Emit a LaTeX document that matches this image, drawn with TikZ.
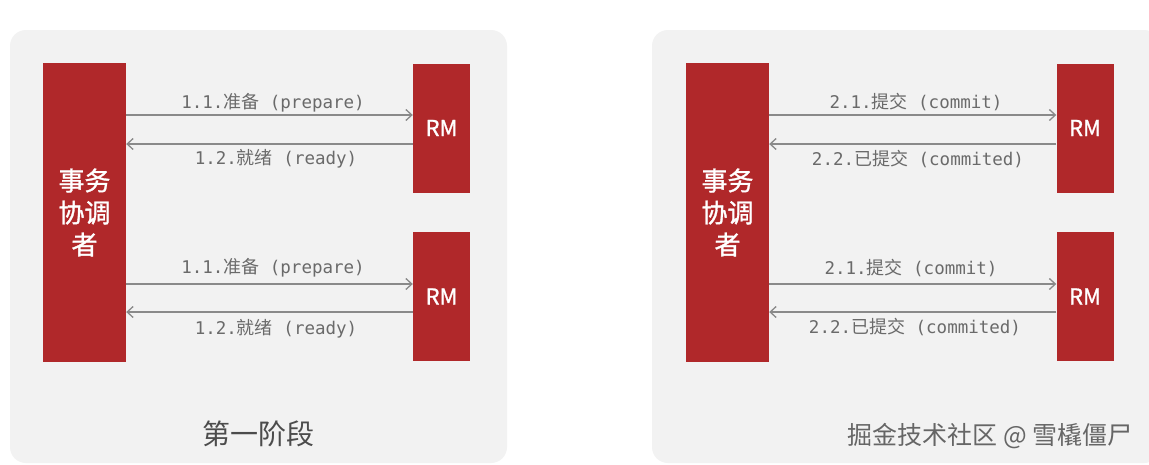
\documentclass[tikz,border=0pt]{standalone}
\usepackage{fontspec}
\setmainfont{Noto Sans CJK SC}
\newfontfamily\cjk{Noto Sans CJK SC}
\newfontfamily\cjkm[RawFeature={embolden=1.2}]{Noto Sans CJK SC}
\newfontfamily\mono{DejaVu Sans Mono}
\usetikzlibrary{arrows.meta}
\definecolor{boxred}{HTML}{B0282A}
\definecolor{panelbg}{HTML}{F2F2F2}
\definecolor{arrowgray}{HTML}{8A8A8A}
\definecolor{labelgray}{HTML}{6A6A6A}
\tikzset{
  panel/.style={fill=panelbg, draw=none, rounded corners=16pt},
  coord/.style={fill=boxred, draw=none, inner sep=0pt, minimum width=83pt, minimum height=299pt,
     text=white, font=\cjkm\fontsize{26}{32}\selectfont, align=center},
  rmbox/.style={fill=boxred, draw=none, inner sep=0pt, minimum width=57pt, minimum height=129pt,
     text=white, font=\cjkm\fontsize{22}{24}\selectfont},
  msg/.style={draw=arrowgray, line width=1.3pt, -{Straight Barb[length=6pt,width=11pt,line width=1.3pt]}},
  lbl/.style={text=labelgray, font=\mono\fontsize{17.5}{20}\selectfont, inner sep=0pt},
  title/.style={text=black!70, font=\cjk\fontsize{28}{30}\selectfont, inner sep=0pt},
}
\newcommand{\cj}[1]{{\cjk\fontsize{18}{20}\selectfont #1}}
\begin{document}
\begin{tikzpicture}[x=1pt,y=-1pt]
\useasboundingbox (0,0) rectangle (1149,464);
\fill[white] (0,0) rectangle (1149,464);
% panels
\path[panel] (10,30) rectangle (507,463);
\path[panel] (652,30) rectangle (1160,463);

% ---------- left panel ----------
\node[coord] (C1) at (84.5,212.5) {事务\\协调\\者};
\node[rmbox] (R1a) at (441.5,128) {RM};
\node[rmbox] (R1b) at (441.5,296.5) {RM};

\coordinate (a1s) at (C1.east |- 0,115);
\coordinate (a1e) at (R1a.west |- 0,115);
\coordinate (b1s) at (R1a.west |- 0,144);
\coordinate (b1e) at (C1.east |- 0,144);
\draw[msg] (a1s) -- (a1e);
\draw[msg] (b1s) -- (b1e);
\coordinate (a2s) at (C1.east |- 0,284);
\coordinate (a2e) at (R1b.west |- 0,284);
\coordinate (b2s) at (R1b.west |- 0,312);
\coordinate (b2e) at (C1.east |- 0,312);
\draw[msg] (a2s) -- (a2e);
\draw[msg] (b2s) -- (b2e);

\node[lbl] (l1) at (273,103) {1.1.\cj{准备} (prepare)};
\node[lbl] (l2) at (276,159) {1.2.\cj{就绪} (ready)};
\node[lbl] (l3) at (273,268) {1.1.\cj{准备} (prepare)};
\node[lbl] (l4) at (276,329) {1.2.\cj{就绪} (ready)};

\node[title] (t1) at (258,434) {第一阶段};

% ---------- right panel ----------
\node[coord] (C2) at (727.5,212.5) {事务\\协调\\者};
\node[rmbox] (R2a) at (1085,128) {RM};
\node[rmbox] (R2b) at (1085,296.5) {RM};

\coordinate (c1s) at (C2.east |- 0,115);
\coordinate (c1e) at (R2a.west |- 0,115);
\coordinate (d1s) at (R2a.west |- 0,144);
\coordinate (d1e) at (C2.east |- 0,144);
\draw[msg] (c1s) -- (c1e);
\draw[msg] (d1s) -- (d1e);
\coordinate (c2s) at (C2.east |- 0,284);
\coordinate (c2e) at (R2b.west |- 0,284);
\coordinate (d2s) at (R2b.west |- 0,312);
\coordinate (d2e) at (C2.east |- 0,312);
\draw[msg] (c2s) -- (c2e);
\draw[msg] (d2s) -- (d2e);

\node[lbl] (m1) at (916,102) {2.1.\cj{提交} (commit)};
\node[lbl] (m2) at (918,159) {2.2.\cj{已提交} (commited)};
\node[lbl] (m3) at (911,268) {2.1.\cj{提交} (commit)};
\node[lbl] (m4) at (915,327) {2.2.\cj{已提交} (commited)};

\node[text=black!60, font=\cjk\fontsize{25}{28}\selectfont, inner sep=0pt] (wm) at (990,436) {掘金技术社区 @ 雪橇僵尸};
\end{tikzpicture}
\end{document}
